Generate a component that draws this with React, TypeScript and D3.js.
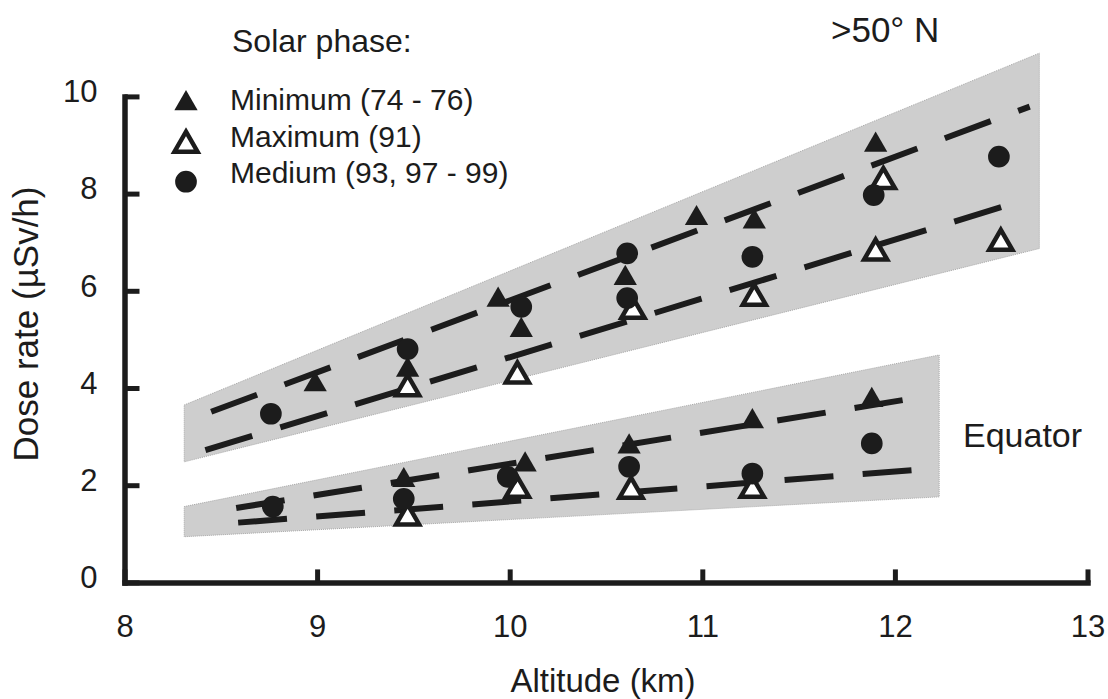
import React, { Component } from 'react';
import * as d3 from 'd3';

const xTicks = [8, 9, 10, 11, 12, 13];
const yTicks = [0, 2, 4, 6, 8, 10];

// shaded ranges: [altitude, upper dose, lower dose]
const northBand = [[8.31, 3.65, 2.48], [12.75, 10.89, 6.87]];
const equatorBand = [[8.31, 1.56, 0.94], [12.23, 4.68, 1.76]];

// dashed fit lines: [altitude, dose]
const northMinFit = [[8.45, 3.51], [12.70, 9.79]];
const northMaxFit = [[8.42, 2.72], [12.56, 7.73]];
const equatorMinFit = [[8.58, 1.53], [12.04, 3.75]];
const equatorMaxFit = [[8.59, 1.23], [12.09, 2.31]];

// measurements: [altitude, dose]
const minimumPoints = [
    [8.99, 4.07], [9.47, 4.37], [9.94, 5.81], [10.06, 5.19], [10.6, 6.26],
    [10.97, 7.49], [11.27, 7.42], [11.9, 9.0],
    [9.45, 2.1], [10.08, 2.42], [10.62, 2.79], [11.26, 3.31], [11.88, 3.75]
];
const maximumPoints = [
    [9.47, 3.99], [10.04, 4.25], [10.64, 5.58], [11.27, 5.85], [11.94, 8.25],
    [11.9, 6.78], [12.55, 6.98],
    [9.47, 1.33], [10.04, 1.9], [10.63, 1.88], [11.26, 1.9]
];
const mediumPoints = [
    [8.76, 3.47], [9.47, 4.8], [10.06, 5.67], [10.61, 6.77], [10.61, 5.85],
    [11.26, 6.7], [11.89, 7.97], [12.54, 8.76],
    [8.77, 1.56], [9.45, 1.72], [9.99, 2.17], [10.62, 2.38], [11.26, 2.24], [11.88, 2.86]
];

const legendLabels = ['Minimum (74 - 76)', 'Maximum (91)', 'Medium (93, 97 - 99)'];

const FONT = '"Liberation Sans", Arial, Helvetica, sans-serif';
const INK = '#1c1c1c';

class DoseChart extends Component {
    svgRef = React.createRef<SVGSVGElement>();

    componentDidMount() {
        this.drawChart();
    }

    drawChart = () => {
        var svg = d3.select(this.svgRef.current);
        svg.selectAll('*').remove();

        var x = d3.scaleLinear().domain([8, 13]).range([124.5, 1087.5]);
        var y = d3.scaleLinear().domain([0, 10]).range([582.4, 96.4]);

        // bands
        var band = d3.area<number[]>()
            .x(d => x(d[0]))
            .y0(d => y(d[2]))
            .y1(d => y(d[1]));
        [northBand, equatorBand].forEach(b => {
            svg.append('path')
                .attr('d', band(b))
                .attr('fill', '#cecece')
                .attr('stroke', '#a8a8a8')
                .attr('stroke-width', 1)
                .attr('stroke-dasharray', '1 1');
        });

        // fit lines
        var line = d3.line<number[]>().x(d => x(d[0])).y(d => y(d[1]));
        [northMinFit, northMaxFit, equatorMinFit, equatorMaxFit].forEach(f => {
            svg.append('path')
                .attr('d', line(f))
                .attr('fill', 'none')
                .attr('stroke', INK)
                .attr('stroke-width', 6)
                .attr('stroke-dasharray', '49 29.3');
        });

        // markers
        var filledTri = d3.symbol().type(d3.symbolTriangle).size(235);
        var openTri = d3.symbol().type(d3.symbolTriangle).size(230);
        var dot = d3.symbol().type(d3.symbolCircle).size(370);

        var drawMarkers = (pts, kind, g) => {
            g.selectAll('path.m-' + kind)
                .data(pts)
                .enter()
                .append('path')
                .attr('class', 'm-' + kind)
                .attr('transform', d => 'translate(' + x(d[0]) + ',' + y(d[1]) + ')')
                .attr('d', kind === 'open' ? openTri() : kind === 'dot' ? dot() : filledTri())
                .attr('fill', kind === 'open' ? '#ffffff' : INK)
                .attr('stroke', kind === 'open' ? INK : 'none')
                .attr('stroke-width', 4.5)
                .attr('stroke-linejoin', 'miter');
        };
        var marks = svg.append('g');
        drawMarkers(maximumPoints, 'open', marks);
        drawMarkers(minimumPoints, 'filled', marks);
        drawMarkers(mediumPoints, 'dot', marks);

        // axes
        var xAxis = svg.append('g')
            .attr('transform', 'translate(0,' + y(0) + ')')
            .call(d3.axisBottom(x).tickValues(xTicks).tickFormat(d3.format('d'))
                .tickSize(-13).tickSizeOuter(0).tickPadding(33));
        var yAxis = svg.append('g')
            .attr('transform', 'translate(' + x(8) + ',0)')
            .call(d3.axisLeft(y).tickValues(yTicks).tickFormat(d3.format('d'))
                .tickSize(-15).tickSizeOuter(0).tickPadding(27));
        [xAxis, yAxis].forEach(ax => {
            ax.select('.domain').attr('stroke', INK).attr('stroke-width', 5.5).attr('stroke-linecap', 'square');
            ax.selectAll('.tick line').attr('stroke', INK).attr('stroke-width', 5);
            ax.selectAll('.tick text')
                .attr('fill', INK)
                .attr('font-size', 31)
                .attr('font-family', FONT);
        });
        yAxis.selectAll('.tick text').attr('dy', '0.17em');

        // axis titles
        svg.append('text')
            .attr('x', 603)
            .attr('y', 692)
            .attr('text-anchor', 'middle')
            .attr('font-size', 33)
            .attr('font-family', FONT)
            .attr('fill', INK)
            .text('Altitude (km)');
        svg.append('text')
            .attr('transform', 'translate(38,324) rotate(-90)')
            .attr('text-anchor', 'middle')
            .attr('font-size', 35)
            .attr('font-family', FONT)
            .attr('fill', INK)
            .text('Dose rate (\u00b5Sv/h)');

        // region labels
        svg.append('text')
            .attr('x', 831).attr('y', 42)
            .attr('font-size', 35).attr('font-family', FONT).attr('fill', INK)
            .text('>50\u00b0 N');
        svg.append('text')
            .attr('x', 963).attr('y', 447)
            .attr('font-size', 34).attr('font-family', FONT).attr('fill', INK)
            .text('Equator');

        // legend
        var legend = svg.append('g');
        legend.append('text')
            .attr('x', 232).attr('y', 52)
            .attr('font-size', 32).attr('font-family', FONT).attr('fill', INK)
            .text('Solar phase:');
        var legendKinds = ['filled', 'open', 'dot'];
        var legendY = [103.5, 145, 181.7];
        legendKinds.forEach((k, i) => {
            legend.append('path')
                .attr('transform', 'translate(186,' + legendY[i] + ')')
                .attr('d', k === 'open' ? openTri() : k === 'dot' ? dot() : filledTri())
                .attr('fill', k === 'open' ? '#ffffff' : INK)
                .attr('stroke', k === 'open' ? INK : 'none')
                .attr('stroke-width', 4.5);
            legend.append('text')
                .attr('x', 230).attr('y', [110, 146.7, 183.3][i])
                .attr('font-size', 30).attr('font-family', FONT).attr('fill', INK)
                .text(legendLabels[i]);
        });
    }

    render() {
        return (
            <svg
                ref={this.svgRef}
                width={1108}
                height={699}
                style={{ position: 'absolute', left: 0, top: 0, background: '#ffffff' }}
            ></svg>
        );
    }
}

export default function App() {
    return <DoseChart />;
}
